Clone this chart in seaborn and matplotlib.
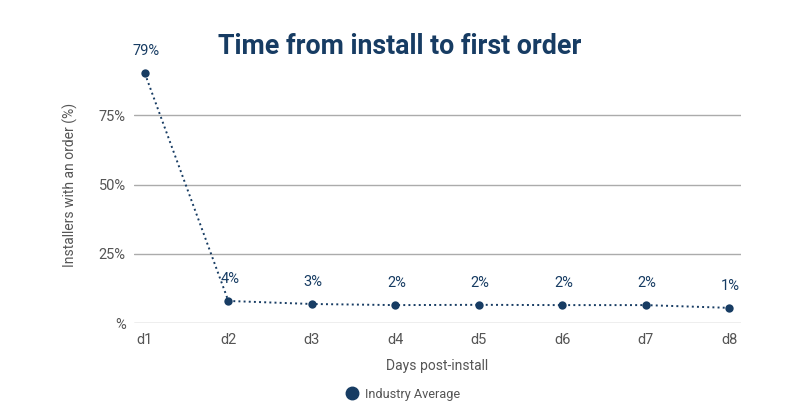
import numpy as np
import pandas as pd
import matplotlib
matplotlib.use("Agg")
import matplotlib.pyplot as plt
from matplotlib.lines import Line2D
import seaborn as sns

# data
days = ["d1", "d2", "d3", "d4", "d5", "d6", "d7", "d8"]
share = [90.1, 8.0, 6.9, 6.5, 6.6, 6.5, 6.5, 5.5]
point_labels = ["79%", "4%", "3%", "2%", "2%", "2%", "2%", "1%"]
y_ticks = [0, 25, 50, 75]
y_tick_labels = ["%", "25%", "50%", "75%"]

navy = "#173c63"
grey_txt = "#555555"

sns.set_theme(style="white")
plt.rcParams["font.family"] = ["Roboto", "DejaVu Sans"]

df = pd.DataFrame({"day": days, "share": share})

fig = plt.figure(figsize=(8, 4.18), dpi=100)
ax = fig.add_axes([0.1675, 0.227, 0.7587, 0.663])

sns.lineplot(data=df, x="day", y="share", ax=ax, color=navy, linestyle=":",
             linewidth=1.4, marker="o", markersize=6, markeredgewidth=0,
             sort=False)

# value labels above each point
for i, (v, lab) in enumerate(zip(share, point_labels)):
    ax.annotate(lab, (i, v), xytext=(1, 16), textcoords="offset points",
                ha="center", va="center", fontsize=10.5, color=navy)

ax.set_xlim(-0.13, 7.14)
ax.set_ylim(0, 100)
ax.set_yticks(y_ticks)
ax.set_yticklabels(y_tick_labels)
ax.yaxis.grid(True, color="#ababab", linewidth=1)
ax.xaxis.grid(False)
for s in ax.spines.values():
    s.set_visible(False)
ax.tick_params(axis="both", length=0, labelsize=10.5, labelcolor=grey_txt)
ax.tick_params(axis="y", pad=6)
ax.tick_params(axis="x", pad=7)

ax.set_xlabel("Days post-install", fontsize=10, color=grey_txt, labelpad=9)
ax.set_ylabel("Installers with an order (%)", fontsize=10, color=grey_txt,
              labelpad=15)

fig.text(0.5, 0.888, "Time from install to first order", ha="center",
         va="center", fontsize=19.3, fontweight="bold", color=navy)

handle = Line2D([], [], linestyle="none", marker="o", markersize=9,
                color=navy)
fig.legend([handle], ["Industry Average"], loc="center",
           bbox_to_anchor=(0.5, 0.057), frameon=False, fontsize=9.2,
           handletextpad=0.0, labelcolor=grey_txt)

fig.savefig("out.png", dpi=100)
